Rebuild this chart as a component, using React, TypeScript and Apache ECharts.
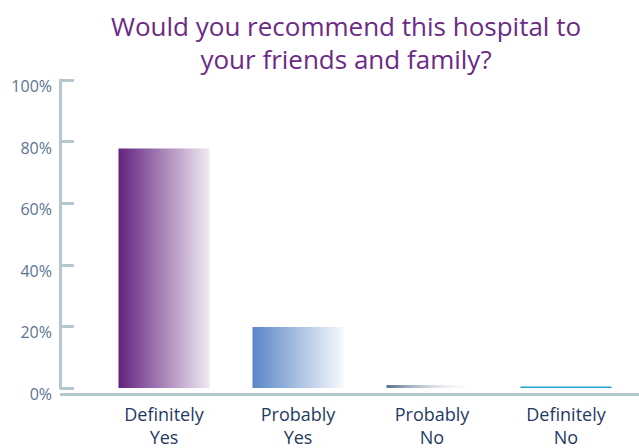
import React, { useEffect, useRef } from "react";
import * as echarts from "echarts";

const titleLines = ["Would you recommend this hospital to", "your friends and family?"];
const categories = ["Definitely\nYes", "Probably\nYes", "Probably\nNo", "Definitely\nNo"];
const values = [77.8, 19.8, 1.0, 0.5];
const yTicks = { min: 0, max: 100, interval: 20 };
const barColors: [string, string][] = [
  ["#63227e", "#efeaf3"],
  ["#5a86c7", "#f7f9fd"],
  ["#57708f", "rgba(255,255,255,0)"],
  ["#1fa3c6", "#1fa3c6"],
];

export default function App() {
  const ref = useRef<HTMLDivElement>(null);
  useEffect(() => {
    if (!ref.current) return;
    const chart = echarts.init(ref.current, undefined, { renderer: "svg" });
    const font = "'Open Sans', Lato, sans-serif";
    chart.setOption({
      animation: false,
      title: {
        text: titleLines.join("\n"),
        left: 341,
        top: 4,
        textAlign: "center",
        textStyle: {
          color: "#6b2a85",
          fontSize: 26,
          fontWeight: "normal",
          fontFamily: font,
          lineHeight: 33,
        },
      },
      grid: { left: 97, right: 6, top: 80, bottom: 54, containLabel: false },
      xAxis: {
        type: "category",
        data: categories,
        axisLine: { show: false },
        axisTick: { show: false },
        axisLabel: {
          color: "#1f3a63",
          fontSize: 18,
          fontFamily: font,
          lineHeight: 23,
          margin: 14,
          interval: 0,
        },
      },
      yAxis: {
        type: "value",
        min: yTicks.min,
        max: yTicks.max,
        interval: yTicks.interval,
        offset: 37,
        axisLine: { show: true, lineStyle: { color: "#b5c8cd", width: 3 } },
        axisTick: { show: true, inside: true, length: 14, lineStyle: { color: "#b5c8cd", width: 3 } },
        splitLine: { show: false },
        axisLabel: {
          formatter: "{value}%",
          color: "#5b7494",
          fontSize: 16,
          fontFamily: font,
          margin: 8,
          verticalAlign: "top",
          lineHeight: 12,
        },
      },
      graphic: [
        {
          type: "line",
          shape: { x1: 60, y1: 394.5, x2: 639, y2: 394.5 },
          style: { stroke: "#b5c8cd", lineWidth: 3 },
          z: -1,
          silent: true,
        },
      ],
      series: [
        {
          type: "bar",
          barWidth: 91,
          z: 5,
          data: values.map((v, i) => ({
            value: v,
            itemStyle: {
              color: new echarts.graphic.LinearGradient(0, 0, 1, 0, [
                { offset: 0, color: barColors[i][0] },
                { offset: 1, color: barColors[i][1] },
              ]),
            },
          })),
        },
      ],
    });
    return () => chart.dispose();
  }, []);
  return (
    <div
      ref={ref}
      style={{ position: "absolute", left: 0, top: 0, width: 639, height: 448 }}
    />
  );
}
